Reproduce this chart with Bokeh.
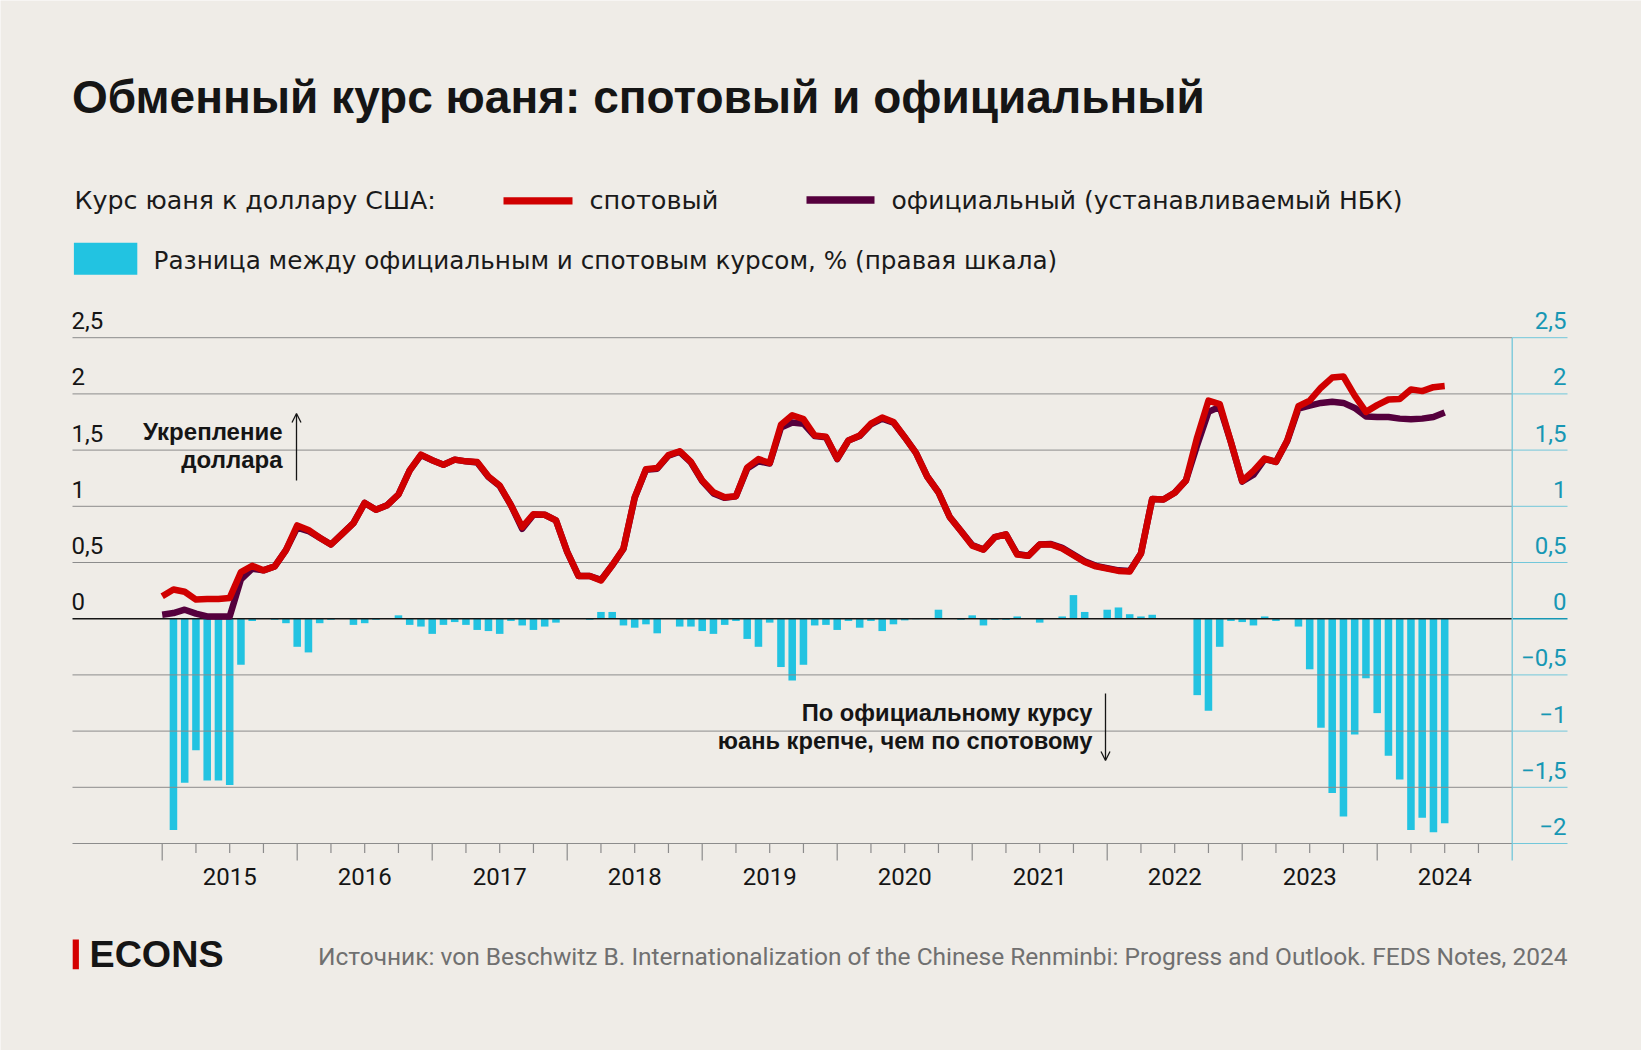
from bokeh.plotting import figure
from bokeh.models import Range1d, Arrow, OpenHead
from bokeh.core.properties import value
from bokeh.embed import file_html
from bokeh.resources import INLINE

# ---------------- data ----------------
# month index: 0 = Jan 2015
line_months = list(range(0, 115))
bar_months = list(range(1, 115))

spot = [0.20, 0.26, 0.24, 0.17, 0.175, 0.175, 0.185, 0.415, 0.47, 0.43,
        0.465, 0.61, 0.83, 0.79, 0.72, 0.66, 0.755, 0.85, 1.03, 0.97,
        1.01, 1.105, 1.32, 1.46, 1.41, 1.37, 1.415, 1.40, 1.395, 1.265,
        1.185, 1.01, 0.815, 0.93, 0.925, 0.875, 0.595, 0.38, 0.38, 0.34,
        0.475, 0.625, 1.08, 1.33, 1.34, 1.455, 1.49, 1.395, 1.23, 1.125,
        1.08, 1.09, 1.345, 1.42, 1.385, 1.725, 1.81, 1.775, 1.63, 1.62,
        1.425, 1.585, 1.63, 1.735, 1.79, 1.75, 1.615, 1.475, 1.265, 1.125,
        0.905, 0.78, 0.65, 0.615, 0.725, 0.75, 0.57, 0.56, 0.66, 0.66,
        0.625, 0.565, 0.505, 0.465, 0.445, 0.425, 0.42, 0.58, 1.065, 1.06,
        1.12, 1.23, 1.615, 1.94, 1.91, 1.57, 1.225, 1.315, 1.425, 1.395,
        1.585, 1.89, 1.94, 2.055, 2.145, 2.155, 1.985, 1.84, 1.90, 1.95,
        1.955, 2.04, 2.025, 2.06, 2.07]

official = [0.035, 0.05, 0.08, 0.045, 0.02, 0.02, 0.02, 0.35, 0.445, 0.43,
            0.465, 0.61, 0.81, 0.78, 0.72, 0.66, 0.755, 0.85, 1.03, 0.97,
            1.01, 1.105, 1.32, 1.455, 1.41, 1.37, 1.415, 1.40, 1.39, 1.26,
            1.18, 1.01, 0.80, 0.925, 0.925, 0.875, 0.595, 0.38, 0.38, 0.345,
            0.475, 0.62, 1.075, 1.325, 1.335, 1.45, 1.485, 1.39, 1.225, 1.115,
            1.075, 1.09, 1.335, 1.40, 1.38, 1.70, 1.745, 1.735, 1.625, 1.615,
            1.42, 1.585, 1.625, 1.73, 1.78, 1.745, 1.615, 1.475, 1.265, 1.125,
            0.905, 0.78, 0.655, 0.615, 0.725, 0.75, 0.575, 0.56, 0.66, 0.665,
            0.63, 0.57, 0.51, 0.47, 0.45, 0.43, 0.425, 0.58, 1.065, 1.06,
            1.12, 1.23, 1.545, 1.84, 1.885, 1.57, 1.22, 1.28, 1.42, 1.395,
            1.58, 1.87, 1.895, 1.92, 1.93, 1.92, 1.875, 1.80, 1.795, 1.795,
            1.78, 1.775, 1.78, 1.795, 1.835]

gap = [-1.88, -1.46, -1.17, -1.44, -1.44, -1.48, -0.41, -0.02, 0.0, -0.01,
       -0.04, -0.25, -0.30, -0.04, -0.01, 0.0, -0.055, -0.04, -0.01, 0.0,
       0.03, -0.055, -0.07, -0.135, -0.055, -0.03, -0.055, -0.10, -0.11, -0.135,
       -0.02, -0.06, -0.10, -0.07, -0.035, 0.0, 0.0, -0.01, 0.06, 0.06,
       -0.06, -0.08, -0.05, -0.13, 0.0, -0.07, -0.07, -0.11, -0.135, -0.055,
       -0.02, -0.18, -0.25, -0.035, -0.43, -0.55, -0.41, -0.06, -0.055, -0.10,
       -0.02, -0.08, -0.02, -0.11, -0.05, -0.015, -0.005, 0.0, 0.08, 0.0,
       -0.01, 0.03, -0.06, -0.01, -0.01, 0.02, 0.0, -0.035, 0.0, 0.02,
       0.21, 0.06, 0.0, 0.08, 0.10, 0.04, 0.02, 0.035, 0.0, 0.0,
       0.0, -0.68, -0.82, -0.25, -0.02, -0.03, -0.06, 0.02, -0.02, 0.0,
       -0.07, -0.45, -0.97, -1.55, -1.76, -1.03, -0.53, -0.84, -1.22, -1.43,
       -1.88, -1.77, -1.90, -1.82]

years = ["2015", "2016", "2017", "2018", "2019", "2020", "2021", "2022", "2023", "2024"]
year_label_pos = [6, 18, 30, 42, 54, 66, 78, 90, 102, 114]
year_ticks = [0, 12, 24, 36, 48, 60, 72, 84, 96, 108]
quarter_ticks = [3, 6, 9, 15, 18, 21, 27, 30, 33, 39, 42, 45, 51, 54, 57, 63, 66, 69,
                 75, 78, 81, 87, 90, 93, 99, 102, 105, 111, 114, 117]
axis_end = 120  # Jan 2025: right axis line

left_ticks = [0, 0.5, 1, 1.5, 2, 2.5]
left_labels = ["0", "0,5", "1", "1,5", "2", "2,5"]
right_ticks = [2.5, 2, 1.5, 1, 0.5, 0, -0.5, -1, -1.5, -2]
right_labels = ["2,5", "2", "1,5", "1", "0,5", "0", "\u22120,5", "\u22121", "\u22121,5", "\u22122"]
grid_ticks = [-1.5, -1, -0.5, 0.5, 1, 1.5, 2, 2.5]
y_min = -2

# ---------------- styles ----------------
BG = "#efece7"
RED = "#d00000"
PURPLE = "#55003d"
CYAN = "#22c3e1"
TEAL_TXT = "#1797b4"
TEAL_LINE = "#72c7da"
GRID = "#8c8c8c"
INK = "#151515"
BOLD = "Liberation Sans"
REG = "DejaVu Sans"
NUM = "Roboto"

W, H = 1641, 1050

# page-pixel -> data helpers (used for texts and decorations only)
X0, PXM = 161.7, 11.25     # x pixel of Jan 2015, pixels per month
Y0, PXU = 618.2, 112.4     # y pixel of zero, pixels per unit


def mx(X):
    return (X - X0) / PXM


def vy(Y):
    return (Y0 - Y) / PXU


p = figure(width=W, height=H,
           x_range=Range1d(mx(0), mx(W)), y_range=Range1d(vy(H), vy(0)),
           output_backend="svg", toolbar_location=None,
           x_axis_location=None, y_axis_location=None, min_border=0,
           background_fill_color=BG, border_fill_color=BG, outline_line_color=None)
p.grid.visible = False

x_left, x_right = mx(72), mx(1567)

# bars
p.vbar(x=bar_months, top=gap, bottom=0, width=0.67, fill_color=CYAN, line_color=None)

# horizontal grid lines
n = len(grid_ticks)
p.segment(x0=[x_left] * n, x1=[axis_end] * n, y0=grid_ticks, y1=grid_ticks,
          line_color=GRID, line_width=1)
p.segment(x0=[axis_end] * n, x1=[x_right] * n, y0=grid_ticks, y1=grid_ticks,
          line_color=TEAL_LINE, line_width=1)
# bottom axis line
p.segment(x0=[x_left], x1=[axis_end], y0=[y_min], y1=[y_min], line_color=GRID, line_width=1.2)
p.segment(x0=[axis_end], x1=[x_right], y0=[y_min], y1=[y_min], line_color=TEAL_LINE, line_width=1.2)
# zero line
p.segment(x0=[x_left], x1=[axis_end], y0=[0], y1=[0], line_color=INK, line_width=1.4)
p.segment(x0=[axis_end], x1=[x_right], y0=[0], y1=[0], line_color=TEAL_TXT, line_width=1.4)
# x ticks
p.segment(x0=year_ticks, x1=year_ticks, y0=[y_min] * len(year_ticks), y1=[vy(860)] * len(year_ticks),
          line_color=GRID, line_width=1.2)
p.segment(x0=quarter_ticks, x1=quarter_ticks, y0=[y_min] * len(quarter_ticks),
          y1=[vy(852.5)] * len(quarter_ticks), line_color=GRID, line_width=1.2)
# right axis line
p.segment(x0=[axis_end], x1=[axis_end], y0=[vy(860)], y1=[2.5], line_color=TEAL_LINE, line_width=1.3)

# series lines
p.line(line_months, official, line_color=PURPLE, line_width=6.5, line_join="round")
p.line(line_months, spot, line_color=RED, line_width=6.5, line_join="round")


def txt(X, Yc, s, size, font, color=INK, bold=False, align="left"):
    # Yc: visual centre of the capitals, page pixels
    p.text(x=[mx(X)], y=[vy(Yc)], text=[s], text_font=value(font),
           text_font_size=f"{size}px", text_font_style="bold" if bold else "normal",
           text_color=color, text_align=align, text_baseline="alphabetic")


# y tick labels (above the grid lines)
lab_off = 17 / PXU
p.text(x=[mx(71)] * len(left_ticks), y=[t + lab_off for t in left_ticks], text=left_labels,
       text_font=value(NUM), text_font_size="24px", text_color=INK,
       text_align="left", text_baseline="alphabetic")
p.text(x=[mx(1566)] * len(right_ticks), y=[t + lab_off for t in right_ticks], text=right_labels,
       text_font=value(NUM), text_font_size="24px", text_color=TEAL_TXT,
       text_align="right", text_baseline="alphabetic")

# year labels
p.text(x=year_label_pos, y=[vy(876)] * len(years), text=years,
       text_font=value(NUM), text_font_size="24px", text_color=INK,
       text_align="center", text_baseline="alphabetic")

# title
txt(71.5, 96.7, "Обменный курс юаня: спотовый и официальный", 46, BOLD, bold=True)

# legend
txt(74, 199.5, "Курс юаня к доллару США:", 25.3, REG, color="#1a1a1a")
p.segment(x0=[mx(503)], x1=[mx(572)], y0=[vy(200.3)], y1=[vy(200.3)],
          line_color=RED, line_width=7.3, line_cap="butt")
txt(589, 199.5, "спотовый", 25.6, REG, color="#1a1a1a")
p.segment(x0=[mx(806)], x1=[mx(874)], y0=[vy(199.5)], y1=[vy(199.5)],
          line_color=PURPLE, line_width=7.3, line_cap="butt")
txt(891, 199.5, "официальный (устанавливаемый НБК)", 25, REG, color="#1a1a1a")
p.quad(left=[mx(73.4)], right=[mx(136.8)], top=[vy(242.3)], bottom=[vy(274.3)],
       fill_color=CYAN, line_color=None)
txt(153, 260, "Разница между официальным и спотовым курсом, % (правая шкала)", 24.7, REG,
    color="#1a1a1a")

# annotations
txt(282, 431, "Укрепление", 24, BOLD, bold=True, align="right")
txt(282, 459.3, "доллара", 24, BOLD, bold=True, align="right")
p.add_layout(Arrow(end=OpenHead(size=9, line_width=1.3, line_color=INK),
                   x_start=mx(296), y_start=vy(480), x_end=mx(296), y_end=vy(413),
                   line_width=1.3, line_color=INK))
txt(1092, 712.5, "По официальному курсу", 23.7, BOLD, bold=True, align="right")
txt(1092, 740.8, "юань крепче, чем по спотовому", 23.7, BOLD, bold=True, align="right")
p.add_layout(Arrow(end=OpenHead(size=9, line_width=1.3, line_color=INK),
                   x_start=mx(1105), y_start=vy(693), x_end=mx(1105), y_end=vy(760),
                   line_width=1.3, line_color=INK))

# footer
p.quad(left=[mx(72.2)], right=[mx(78.4)], top=[vy(939)], bottom=[vy(968.7)],
       fill_color="#d40000", line_color=None)
txt(89, 953.4, "ECONS", 37.7, BOLD, bold=True)
txt(1567, 955.5, "Источник: von Beschwitz B. Internationalization of the Chinese Renminbi: "
    "Progress and Outlook. FEDS Notes, 2024", 24.5, NUM, color="#707070", align="right")

open("out.html", "w").write(file_html(p, INLINE))
